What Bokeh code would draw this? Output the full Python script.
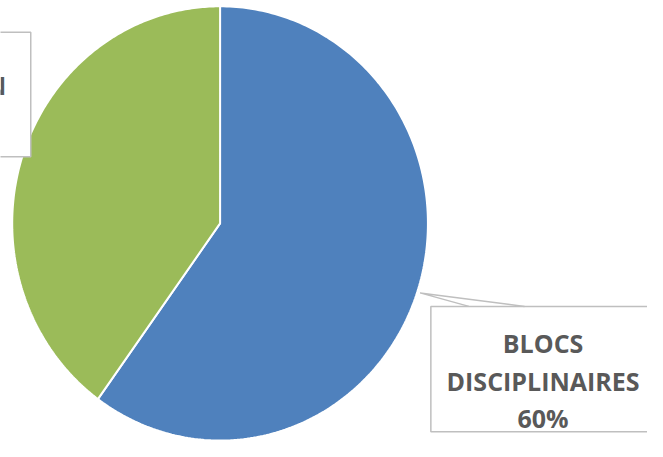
import numpy as np
from bokeh.plotting import figure
from bokeh.models import Range1d, ColumnDataSource
from bokeh.embed import file_html
from bokeh.resources import INLINE
from bokeh.core.properties import value

# ---- data ----
categories = ["BLOCS DISCIPLINAIRES", "PROFESSIONNALISATION"]
values = [60, 40]
label_words = [["BLOCS", "DISCIPLINAIRES"], ["PROFESSIONNALISATION"]]
colors = ["#4F81BD", "#9BBB59"]

# ---- layout (reference pixel coordinates) ----
CX, CY, RX, RY = 225, 231, 213, 225
W, H = 647, 441

p = figure(width=W, height=H, output_backend="svg", toolbar_location=None,
           x_range=Range1d(0, 663), y_range=Range1d(457, 0),
           min_border=0, border_fill_color="white", background_fill_color="white")
p.axis.visible = False
p.grid.visible = False
p.outline_line_color = None

total = float(sum(values))
xs, ys = [], []
acc = 0.0
for v in values:
    t = np.linspace(acc / total, (acc + v) / total, 240) * 2 * np.pi
    xs.append([CX] + list(CX + RX * np.sin(t)) + [CX])
    ys.append([CY] + list(CY - RY * np.cos(t)) + [CY])
    acc += v

src = ColumnDataSource(dict(xs=xs, ys=ys, color=colors, cat=categories))
p.patches("xs", "ys", source=src, fill_color="color", line_color="white", line_width=2)

box_col = "#BFBFBF"
txt_col = "#595959"
font = value("Open Sans")
fsize = "25px"

# callout box for slice 0 (blue)
p.quad(left=441, right=700, top=317, bottom=447, fill_color="white",
       line_color=box_col, line_width=1.5)
p.multi_line(xs=[[480, 430, 537]], ys=[[317, 303, 317]], line_color=box_col, line_width=1.5)
lines0 = label_words[0] + [f"{values[0]}%"]
p.text(x=[556] * len(lines0), y=[355 + 39 * i for i in range(len(lines0))], text=lines0,
       text_font=font, text_font_style="bold", text_font_size=fsize,
       text_color=txt_col, text_align="center", text_baseline="alphabetic")

# callout box for slice 1 (green), mostly off-page on the left
p.quad(left=-330, right=31, top=33, bottom=162, fill_color="white",
       line_color=box_col, line_width=1.5)
p.text(x=[6], y=[88], text=[label_words[1][0]],
       text_font=font, text_font_style="bold", text_font_size=fsize,
       text_color=txt_col, text_align="right", text_baseline="alphabetic")
p.text(x=[-150], y=[127], text=[f"{values[1]}%"],
       text_font=font, text_font_style="bold", text_font_size=fsize,
       text_color=txt_col, text_align="center", text_baseline="alphabetic")

open("out.html", "w").write(file_html(p, INLINE))
